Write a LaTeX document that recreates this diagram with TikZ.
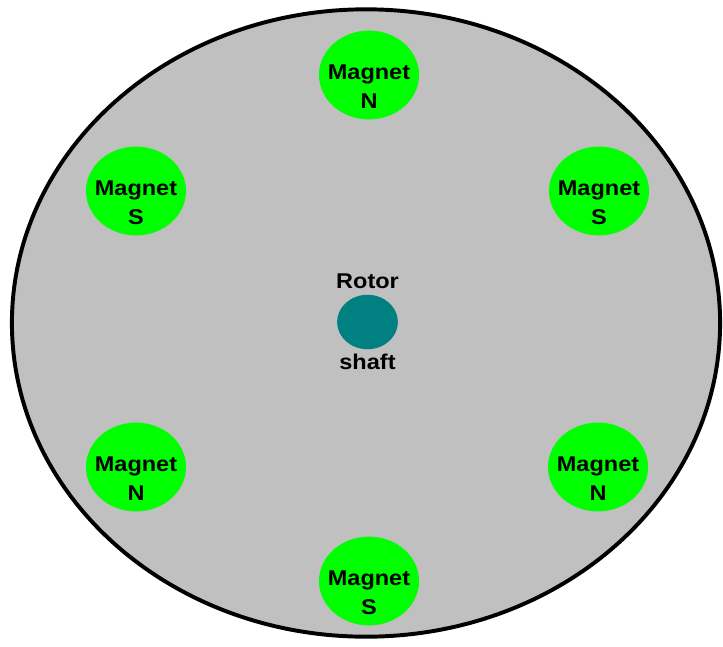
\documentclass[tikz,border=0pt]{standalone}
\usepackage{fontspec}
\setmainfont[FakeStretch=1.1]{Liberation Sans}
\usetikzlibrary{positioning,shapes.geometric}
\definecolor{discgray}{HTML}{C0C0C0}
\definecolor{magnetgreen}{HTML}{00FF00}
\definecolor{shaftteal}{HTML}{008080}

\begin{document}
\begin{tikzpicture}[x=0.025cm,y=-0.025cm,disc/.style={ellipse,draw=black,fill=discgray,line width=2.8pt,minimum width=17.7cm,minimum height=15.68cm},magnet/.style={ellipse,fill=magnetgreen,minimum width=2.5cm,minimum height=2.22cm,inner sep=0pt},maglabel/.style={align=center,inner sep=0pt,font=\bfseries\fontsize{15.2}{20.6}\selectfont},shaftlabel/.style={inner sep=0pt,font=\bfseries\fontsize{15.2}{18}\selectfont}]
\useasboundingbox (0,0) rectangle (723,646);
\node[disc] (rotordisc) at (366,323) {};
% magnets round the disc
\node[magnet] (magtop) at (369,75) {};
\node[magnet] (magul) at (136,191) {};
\node[magnet] (magur) at (599,191) {};
\node[magnet] (magll) at (136,467) {};
\node[magnet] (maglr) at (598,467) {};
\node[magnet] (magbot) at (369,581) {};
\node[maglabel] (labtop) at ([yshift=-0.3cm]magtop) {Magnet\\N};
\node[maglabel] (labul) at ([yshift=-0.3cm]magul) {Magnet\\S};
\node[maglabel] (labur) at ([yshift=-0.3cm]magur) {Magnet\\S};
\node[maglabel] (labll) at ([yshift=-0.3cm]magll) {Magnet\\N};
\node[maglabel] (lablr) at ([yshift=-0.3cm]maglr) {Magnet\\N};
\node[maglabel] (labbot) at ([yshift=-0.3cm]magbot) {Magnet\\S};
% shaft in the middle
\node[ellipse,fill=shaftteal,minimum width=1.52cm,minimum height=1.36cm,inner sep=0pt] (shaft) at (367.5,322) {};
\node[shaftlabel,above=0.15cm of shaft] (rotorlab) {Rotor};
\node[shaftlabel,below=0.1cm of shaft] (shaftlab) {shaft};
\end{tikzpicture}
\end{document}
